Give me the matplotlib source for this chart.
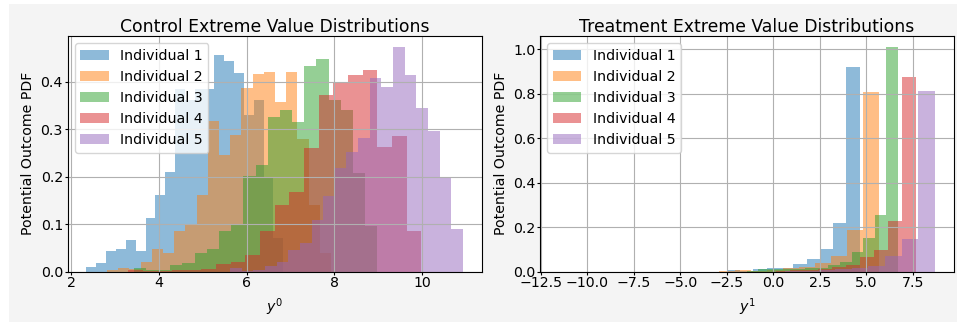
import numpy as np
import matplotlib
matplotlib.use("Agg")
from matplotlib import pyplot as plt
from matplotlib.patches import Rectangle

labels = ["Individual 1", "Individual 2", "Individual 3", "Individual 4", "Individual 5"]

# control outcomes: (first edge, last edge) of the 20 bins and the density per bin
ctrl_range_1 = (2.343, 6.833)
ctrl_pdf_1 = [0.010, 0.018, 0.044, 0.048, 0.067, 0.044, 0.114, 0.162, 0.211, 0.386,
              0.361, 0.386, 0.386, 0.456, 0.443, 0.419, 0.330, 0.361, 0.200, 0.070]
ctrl_range_2 = (2.809, 7.923)
ctrl_pdf_2 = [0.0035, 0.0085, 0.005, 0.021, 0.048, 0.039, 0.086, 0.098, 0.161, 0.317,
              0.245, 0.289, 0.388, 0.416, 0.420, 0.358, 0.420, 0.280, 0.140, 0.040]
ctrl_range_3 = (3.423, 8.977)
ctrl_pdf_3 = [0.0085, 0.004, 0.0035, 0.014, 0.018, 0.040, 0.048, 0.085, 0.099, 0.201,
              0.224, 0.327, 0.340, 0.315, 0.434, 0.448, 0.361, 0.340, 0.209, 0.097]
ctrl_range_4 = (3.290, 9.985)
ctrl_pdf_4 = [0.003, 0.001, 0.002, 0.003, 0.003, 0.005, 0.0155, 0.021, 0.035, 0.085,
              0.140, 0.167, 0.260, 0.372, 0.400, 0.414, 0.425, 0.262, 0.285, 0.086]
ctrl_range_5 = (5.620, 10.930)
ctrl_pdf_5 = [0.0085, 0.002, 0.0035, 0.0127, 0.021, 0.046, 0.060, 0.109, 0.160, 0.219,
              0.253, 0.281, 0.409, 0.390, 0.473, 0.414, 0.344, 0.296, 0.199, 0.090]

# treatment outcomes
trt_range_1 = (-9.64, 4.64)
trt_pdf_1 = [0.0008, 0, 0, 0, 0, 0, 0, 0, 0, 0,
             0.006, 0.005, 0.010, 0.015, 0.018, 0.035, 0.057, 0.102, 0.220, 0.922]
trt_range_2 = (-11.51, 5.68)
trt_pdf_2 = [0.0008, 0, 0, 0, 0, 0, 0, 0, 0, 0,
             0.003, 0.006, 0.005, 0.008, 0.018, 0.0225, 0.038, 0.070, 0.188, 0.810]
trt_range_3 = (-5.80, 6.70)
trt_pdf_3 = [0.0008, 0, 0, 0, 0, 0, 0, 0.004, 0.010, 0.010,
             0.010, 0.012, 0.015, 0.018, 0.030, 0.045, 0.087, 0.152, 0.255, 1.010]
trt_range_4 = (-7.36, 7.64)
trt_pdf_4 = [0.0008, 0, 0, 0, 0, 0, 0, 0, 0, 0,
             0.004, 0.006, 0.008, 0.012, 0.020, 0.030, 0.065, 0.098, 0.228, 0.878]
trt_range_5 = (-9.18, 8.68)
trt_pdf_5 = [0.0008, 0, 0, 0, 0, 0, 0, 0, 0, 0,
             0, 0.004, 0.005, 0.007, 0.010, 0.015, 0.027, 0.070, 0.147, 0.815]

ctrl = [(ctrl_range_1, ctrl_pdf_1), (ctrl_range_2, ctrl_pdf_2), (ctrl_range_3, ctrl_pdf_3),
        (ctrl_range_4, ctrl_pdf_4), (ctrl_range_5, ctrl_pdf_5)]
trt = [(trt_range_1, trt_pdf_1), (trt_range_2, trt_pdf_2), (trt_range_3, trt_pdf_3),
       (trt_range_4, trt_pdf_4), (trt_range_5, trt_pdf_5)]

plt.rcParams["font.size"] = 10.2
for axis in ("xtick", "ytick"):
    plt.rcParams[axis + ".major.size"] = 2.2
    plt.rcParams[axis + ".major.pad"] = 1.2

fig = plt.figure(figsize=(9.57, 3.22), dpi=100, facecolor="white")
# grey backdrop with a thin white strip on the top and left
fig.add_artist(Rectangle((9 / 957, 0), 1, 1 - 4 / 322, transform=fig.transFigure,
                         facecolor="#f4f4f4", edgecolor="none", zorder=-10))

ax0 = fig.add_axes([0.0707, 0.1562, 0.4326, 0.732])
ax1 = fig.add_axes([0.5646, 0.1562, 0.4320, 0.732])


def draw(ax, groups, title, xlabel):
    for (lo, hi), pdf in groups:
        edges = np.linspace(lo, hi, len(pdf) + 1)
        ax.hist(edges[:-1], bins=edges, weights=pdf, alpha=0.5)
    ax.legend(labels, loc="upper left")
    ax.set_title(title, fontsize=12.4, pad=2)
    ax.set_xlabel(xlabel)
    ax.set_ylabel("Potential Outcome PDF")
    ax.grid(True)


draw(ax0, ctrl, "Control Extreme Value Distributions", "$y^0$")
draw(ax1, trt, "Treatment Extreme Value Distributions", "$y^1$")

fig.savefig("out.png", dpi=100, facecolor=fig.get_facecolor())
